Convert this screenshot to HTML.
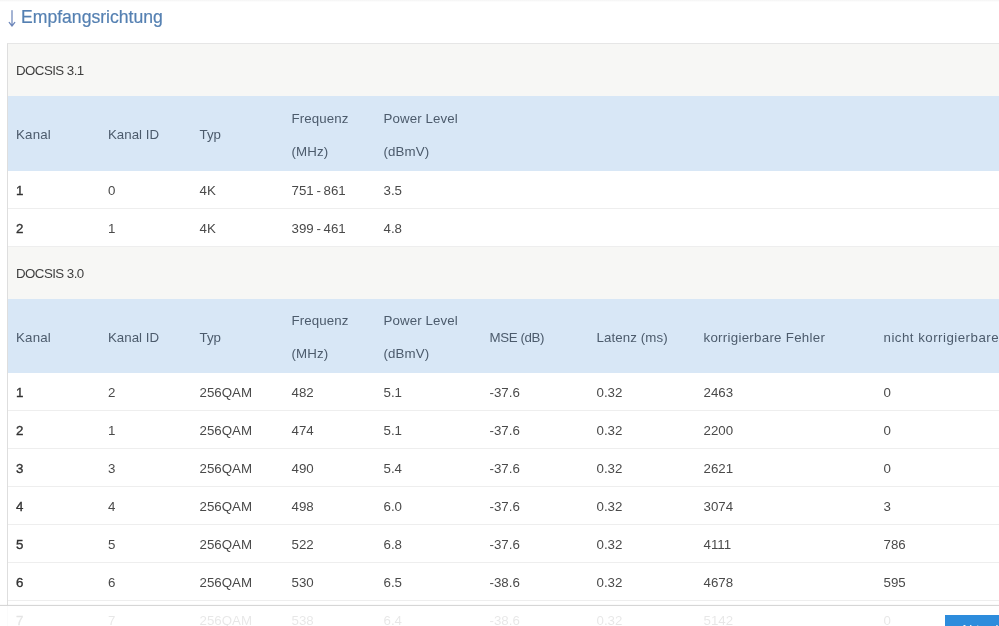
<!DOCTYPE html>
<html lang="de"><head><meta charset="utf-8"><title>Empfangsrichtung</title>
<style>
html,body{margin:0;padding:0;background:#fff;}
body{width:999px;height:626px;overflow:hidden;position:relative;font-family:"Liberation Sans",sans-serif;font-size:13.3px;color:#4a4a4a;}
.topline{position:absolute;left:0;top:0;width:999px;height:2px;background:linear-gradient(#f4f4f4,#fff);}
h2{position:absolute;left:21px;top:5px;margin:0;font-weight:normal;font-size:17.6px;line-height:24px;color:#5580b2;white-space:nowrap;-webkit-text-stroke:0.2px #5580b2;}
svg.arr{position:absolute;left:6px;top:9px;}
.wrap{position:absolute;left:7px;top:43px;width:1192.5px;border-left:1px solid #dedede;border-top:1px solid #e6e6e6;}
table{border-collapse:collapse;table-layout:fixed;width:1192.5px;}
td,th{padding:0 0 0 8px;text-align:left;font-weight:normal;vertical-align:middle;white-space:nowrap;overflow:visible;}
td span,th span{position:relative;display:inline-block;}
tr.sec td{height:52px;background:#f7f7f5;color:#3f3f3f;letter-spacing:-0.55px;}
tr.hd th{height:75px;background:#d8e7f6;color:#4c5b6c;line-height:33px;}
tr.hd th span{top:1.3px;}
tr.hd th span.two{top:1px;}
tr.hd2 th{height:74px;}
tr.r td{height:37px;border-bottom:1px solid #eeeeee;background:#fff;}
tr.r td span{top:1px;}
tr.r td span.ws{word-spacing:-1px;}
tr.r td:first-child{color:#333;-webkit-text-stroke:0.35px #333;}
.bar{position:absolute;left:0;top:605px;width:999px;height:21px;background:rgba(255,255,255,0.87);border-top:1px solid #d6d6d6;box-shadow:0 0 1px rgba(0,0,0,0.12);}
.btn{position:absolute;left:945px;top:615px;width:60px;height:20px;background:#2d8cdc;color:#fff;font-size:13.3px;line-height:20px;padding:5px 0 0 15px;text-align:left;white-space:nowrap;letter-spacing:0.3px;}
</style></head><body>
<div class="topline"></div>
<svg class="arr" width="12" height="20" viewBox="0 0 12 20"><path d="M6 1.5V16.8M3.2 13.4L6 17L8.8 13.4" fill="none" stroke="#6f88bb" stroke-width="1.25" stroke-linecap="round" stroke-linejoin="round"/></svg>
<h2>Empfangsrichtung</h2>
<div class="wrap"><table><colgroup><col style='width:92px'><col style='width:91.5px'><col style='width:92px'><col style='width:92px'><col style='width:106px'><col style='width:107px'><col style='width:107px'><col style='width:180px'><col style='width:325px'></colgroup>
<tr class="sec"><td colspan="9"><span>DOCSIS 3.1</span></td></tr>
<tr class='hd '><th><span style='letter-spacing:0.2px'>Kanal</span></th><th><span>Kanal ID</span></th><th><span>Typ</span></th><th><span class='two' style='letter-spacing:0.12px'>Frequenz<br>(MHz)</span></th><th><span class='two' style='letter-spacing:0.1px'>Power Level<br>(dBmV)</span></th><th></th><th></th><th></th><th></th></tr>
<tr class='r'><td><span>1</span></td><td><span>0</span></td><td><span>4K</span></td><td><span class='ws'>751 - 861</span></td><td><span>3.5</span></td><td></td><td></td><td></td><td></td></tr><tr class='r'><td><span>2</span></td><td><span>1</span></td><td><span>4K</span></td><td><span class='ws'>399 - 461</span></td><td><span>4.8</span></td><td></td><td></td><td></td><td></td></tr>
<tr class="sec"><td colspan="9"><span>DOCSIS 3.0</span></td></tr>
<tr class='hd hd2'><th><span style='letter-spacing:0.2px'>Kanal</span></th><th><span>Kanal ID</span></th><th><span>Typ</span></th><th><span class='two' style='letter-spacing:0.12px'>Frequenz<br>(MHz)</span></th><th><span class='two' style='letter-spacing:0.1px'>Power Level<br>(dBmV)</span></th><th><span style='letter-spacing:-0.4px'>MSE (dB)</span></th><th><span style='letter-spacing:0.1px'>Latenz (ms)</span></th><th><span style='letter-spacing:0.28px'>korrigierbare Fehler</span></th><th><span style='letter-spacing:0.48px'>nicht korrigierbare Fehler</span></th></tr>
<tr class='r'><td><span>1</span></td><td><span>2</span></td><td><span>256QAM</span></td><td><span>482</span></td><td><span>5.1</span></td><td><span>-37.6</span></td><td><span>0.32</span></td><td><span>2463</span></td><td><span>0</span></td></tr><tr class='r'><td><span>2</span></td><td><span>1</span></td><td><span>256QAM</span></td><td><span>474</span></td><td><span>5.1</span></td><td><span>-37.6</span></td><td><span>0.32</span></td><td><span>2200</span></td><td><span>0</span></td></tr><tr class='r'><td><span>3</span></td><td><span>3</span></td><td><span>256QAM</span></td><td><span>490</span></td><td><span>5.4</span></td><td><span>-37.6</span></td><td><span>0.32</span></td><td><span>2621</span></td><td><span>0</span></td></tr><tr class='r'><td><span>4</span></td><td><span>4</span></td><td><span>256QAM</span></td><td><span>498</span></td><td><span>6.0</span></td><td><span>-37.6</span></td><td><span>0.32</span></td><td><span>3074</span></td><td><span>3</span></td></tr><tr class='r'><td><span>5</span></td><td><span>5</span></td><td><span>256QAM</span></td><td><span>522</span></td><td><span>6.8</span></td><td><span>-37.6</span></td><td><span>0.32</span></td><td><span>4111</span></td><td><span>786</span></td></tr><tr class='r'><td><span>6</span></td><td><span>6</span></td><td><span>256QAM</span></td><td><span>530</span></td><td><span>6.5</span></td><td><span>-38.6</span></td><td><span>0.32</span></td><td><span>4678</span></td><td><span>595</span></td></tr><tr class='r'><td><span>7</span></td><td><span>7</span></td><td><span>256QAM</span></td><td><span>538</span></td><td><span>6.4</span></td><td><span>-38.6</span></td><td><span>0.32</span></td><td><span>5142</span></td><td><span>0</span></td></tr><tr class='r'><td><span>8</span></td><td><span>8</span></td><td><span>256QAM</span></td><td><span>546</span></td><td><span>6.3</span></td><td><span>-38.6</span></td><td><span>0.32</span></td><td><span>5390</span></td><td><span>0</span></td></tr>
</table></div>
<div class="bar"></div>
<div class="btn">Aktualisieren</div>
</body></html>
